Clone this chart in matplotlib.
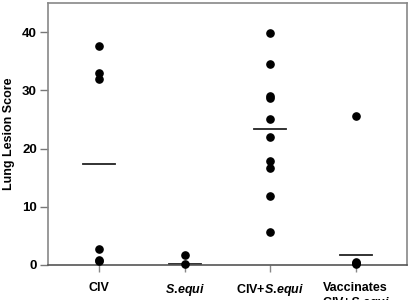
import numpy as np
import matplotlib
matplotlib.use('Agg')
import matplotlib.pyplot as plt

plt.rcParams['font.family'] = 'Liberation Sans'
plt.rcParams['font.weight'] = 'bold'
plt.rcParams['mathtext.fontset'] = 'custom'
plt.rcParams['mathtext.rm'] = 'Liberation Sans:bold'
plt.rcParams['mathtext.it'] = 'Liberation Sans:italic:bold'
plt.rcParams['mathtext.bf'] = 'Liberation Sans:bold'

# groups and lung lesion scores
groups = ['CIV', r'$\mathit{S.\!equi}$', r'CIV+$\mathit{S.\!equi}$',
          'Vaccinates\n' + r'CIV+$\mathit{S.\!equi}$']
civ = [37.6, 33.0, 32.0, 2.7, 0.9, 0.6]
sequi = [1.7, 0.1]
civ_sequi = [39.8, 34.5, 29.0, 28.6, 25.0, 21.9, 17.8, 16.7, 11.9, 5.7]
vaccinates = [25.6, 0.5, 0.3, 0.1]
medians = [17.3, 0.15, 23.4, 1.7]

scores = [civ, sequi, civ_sequi, vaccinates]

fig = plt.figure(figsize=(4.16, 3.0), dpi=100)
ax = fig.add_axes([0.1154, 0.1167, 0.8630, 0.8733])

for i, vals in enumerate(scores):
    xpos = np.full(len(vals), i + 1)
    ax.plot(xpos, vals, 'o', color='black', ms=5.2, clip_on=False, zorder=3)
    ax.plot([i + 1 - 0.185, i + 1 + 0.185], [medians[i], medians[i]],
            '-', color='#222222', lw=1.3, zorder=2)

ax.set_xlim(0.4, 4.6)
ax.set_ylim(0, 45)
ax.set_yticks([0, 10, 20, 30, 40])
ax.set_xticks([1, 2, 3, 4])
ax.set_xticklabels(groups, fontsize=9, fontweight='bold', va='top', linespacing=1.15)
ax.tick_params(axis='y', labelsize=9.5, length=6, width=1, color='#777777', pad=2)
ax.tick_params(axis='x', length=5, width=1, color='#888888', pad=7)
ax.set_ylabel('Lung Lesion Score', fontsize=9, fontweight='bold', labelpad=5)

for s in ax.spines.values():
    s.set_color('#888888')
    s.set_linewidth(1.2)
ax.spines['bottom'].set_color('#555555')

fig.savefig('out.png', dpi=100)
